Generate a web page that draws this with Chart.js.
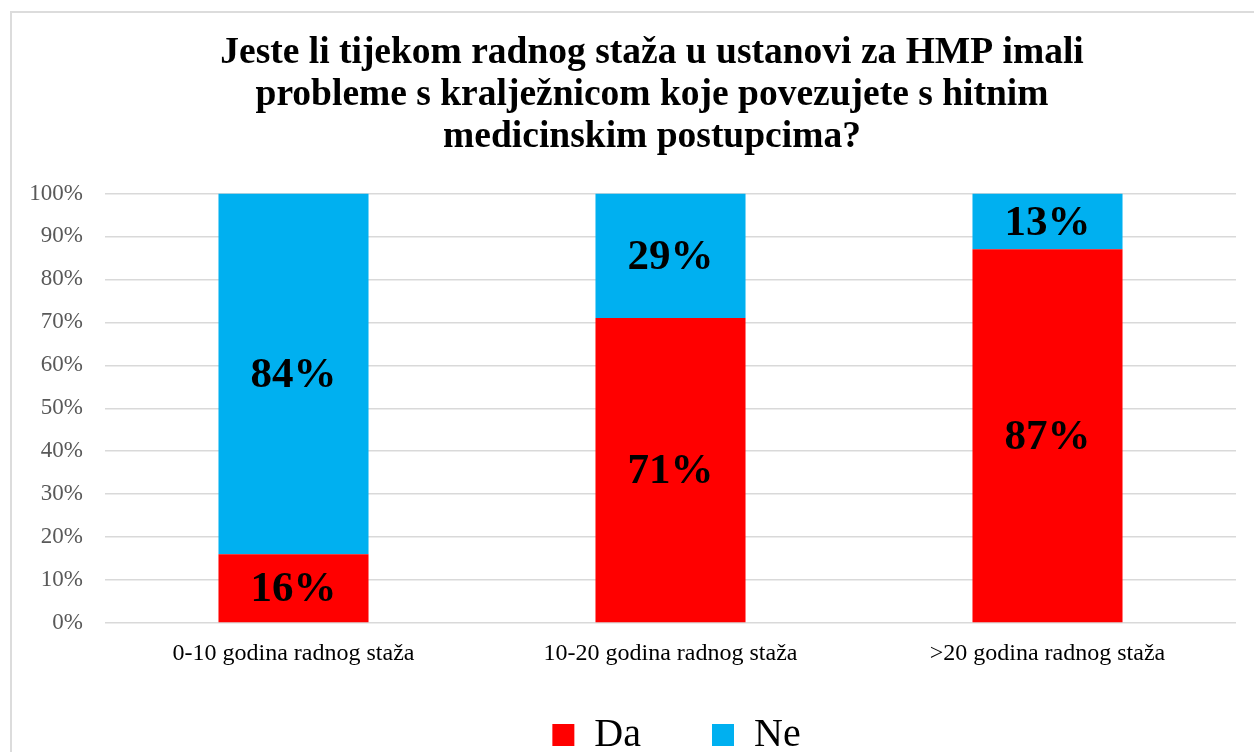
<!DOCTYPE html>
<html>
<head>
<meta charset="utf-8">
<script src="https://cdn.jsdelivr.net/npm/chart.js@4.4.1/dist/chart.umd.min.js"></script>
<style>
  html, body { margin: 0; padding: 0; background: #fff; overflow: hidden; }
  #box {
    position: absolute; left: 10px; top: 11px;
    width: 1280px; height: 900px;
    border: 2px solid #dcdcdc;
  }
</style>
</head>
<body>
<div id="box"><canvas id="chart" width="1280" height="787"></canvas></div>
<script>
const categories = ['0-10 godina radnog staža', '10-20 godina radnog staža', '>20 godina radnog staža'];
const daValues = [16, 71, 87];
const neValues = [84, 29, 13];
const yTicks = [0, 10, 20, 30, 40, 50, 60, 70, 80, 90, 100];
const titleLines = [
  'Jeste li tijekom radnog staža u ustanovi za HMP imali',
  'probleme s kralježnicom koje povezujete s hitnim',
  'medicinskim postupcima?'
];

const serif = '"Liberation Serif", "Times New Roman", serif';

// percent labels in the middle of every segment
const barLabels = {
  id: 'barLabels',
  afterDatasetsDraw(chart) {
    const ctx = chart.ctx;
    ctx.save();
    ctx.font = 'bold 43px ' + serif;
    ctx.fillStyle = '#000';
    ctx.textAlign = 'center';
    ctx.textBaseline = 'middle';
    chart.data.datasets.forEach((ds, i) => {
      const meta = chart.getDatasetMeta(i);
      meta.data.forEach((bar, j) => {
        const p = bar.getCenterPoint();
        ctx.fillText(ds.data[j] + '%', p.x, p.y + 2);
      });
    });
    ctx.restore();
  }
};

// legend padding is wide for the gap between items, pull the row back up
const legendLift = {
  id: 'legendLift',
  afterLayout(chart) {
    chart.legend.top -= 35;
    chart.legend.bottom -= 35;
    chart.legend.left += 6;
    chart.legend.right += 6;
  }
};

new Chart(document.getElementById('chart'), {
  type: 'bar',
  data: {
    labels: categories,
    datasets: [
      { label: 'Da', data: daValues, backgroundColor: '#FF0000' },
      { label: 'Ne', data: neValues, backgroundColor: '#00B0F0' }
    ]
  },
  options: {
    responsive: false,
    animation: false,
    layout: { padding: 0 },
    datasets: { bar: { categoryPercentage: 1, barPercentage: 0.398 } },
    plugins: {
      title: {
        display: true,
        text: titleLines,
        color: '#000',
        font: { family: serif, size: 37.5, weight: 'bold', lineHeight: 1.12 },
        padding: { top: 19, bottom: 35.5 }
      },
      legend: {
        position: 'bottom',
        fullSize: false,
        labels: {
          boxWidth: 22,
          boxHeight: 22,
          padding: 71,
          color: '#000',
          font: { family: serif, size: 40 }
        }
      },
      tooltip: { enabled: false }
    },
    scales: {
      x: {
        stacked: true,
        afterFit(scale) { scale.height = 56; },
        grid: { display: false },
        border: { display: false },
        ticks: { color: '#000', font: { family: serif, size: 24 }, padding: 8 }
      },
      y: {
        stacked: true,
        min: 0,
        max: 100,
        afterFit(scale) { scale.width = 93; },
        afterBuildTicks(scale) { scale.ticks = yTicks.map(v => ({ value: v })); },
        grid: { color: '#d9d9d9', lineWidth: 1.5, drawTicks: false },
        border: { display: false },
        ticks: {
          color: '#595959',
          padding: 22,
          font: { family: serif, size: 23 },
          callback: v => v + '%'
        }
      },
      // empty right margin so the title stays centred on the whole frame
      yRight: {
        position: 'right',
        min: 0,
        max: 100,
        afterFit(scale) { scale.width = 56; },
        grid: { display: false },
        border: { display: false },
        ticks: { display: false }
      }
    }
  },
  plugins: [barLabels, legendLift]
});
</script>
</body>
</html>
